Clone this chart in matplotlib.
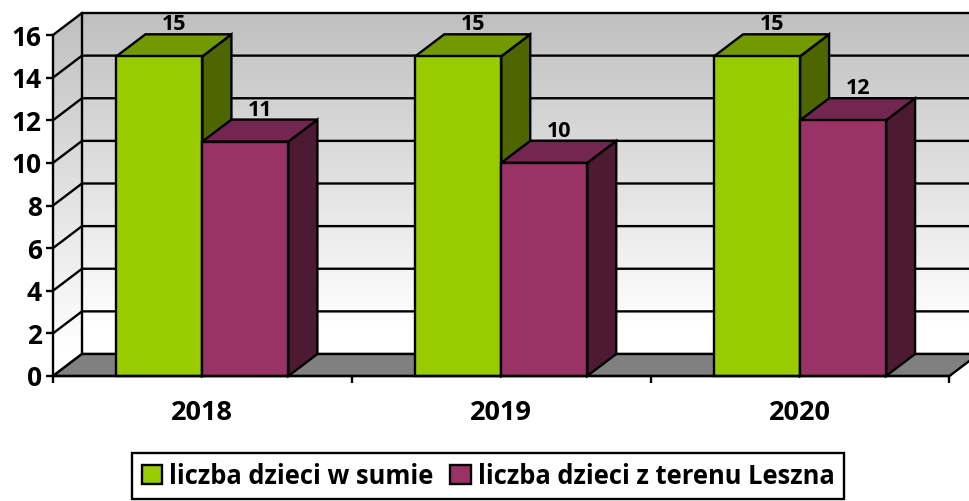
import numpy as np
import matplotlib
matplotlib.use("Agg")
import matplotlib.pyplot as plt
from matplotlib.patches import Polygon, Patch

years = ["2018", "2019", "2020"]
series_names = ["liczba dzieci w sumie", "liczba dzieci z terenu Leszna"]
total_children = [15, 15, 15]
leszno_children = [11, 10, 12]
y_ticks = [0, 2, 4, 6, 8, 10, 12, 14, 16]

W, H = 969, 501
plt.rcParams["font.family"] = ["Open Sans", "DejaVu Sans"]
plt.rcParams["font.weight"] = "bold"
fig = plt.figure(figsize=(W / 100, H / 100), dpi=100, facecolor="white")
L, R, B, T = 53.0, 949.5, 376.0, 35.0
ax = fig.add_axes([L / W, 1 - B / H, (R - L) / W, (B - T) / H])
px_x = 3 / (R - L)
px_y = 16 / (B - T)
DX, DY = 29 * px_x, 22 * px_y
BAR_W = 86 * px_x
LW = 1.7
x0, x1, ymax = -0.5, 2.5, 16

top_c, bot_c = np.array([0.75, 0.75, 0.75]), np.array([1.0, 1.0, 1.0])
g = np.linspace(0, 1, 256)[:, None, None]
g2 = np.clip(g / 0.92, 0, 1)
img = top_c * (1 - g2) + bot_c * g2

# back wall
ax.imshow(img, extent=[x0 + DX, x1 + DX, DY, ymax + DY], aspect="auto", origin="upper",
          zorder=1, clip_on=False)
# side wall
side = ax.imshow(img, extent=[x0, x0 + DX, 0, ymax + DY], aspect="auto", origin="upper", zorder=1)
clip_poly = Polygon([(x0, 0), (x0 + DX, DY), (x0 + DX, ymax + DY), (x0, ymax)],
                    transform=ax.transData, fill=False, edgecolor="none", clip_on=False)
ax.add_patch(clip_poly)
side.set_clip_box(fig.bbox)
side.set_clip_path(clip_poly)
ax.set_xlim(-0.5, 2.5)
ax.set_ylim(0, 16)
ax.patch.set_visible(False)

# grid
for v in y_ticks:
    ax.plot([x0, x0 + DX, x1 + DX], [v, v + DY, v + DY], color="black", lw=LW,
            zorder=2, clip_on=False, solid_joinstyle="miter")
ax.plot([x0 + DX, x0 + DX], [DY, ymax + DY], color="black", lw=LW, zorder=2, clip_on=False)

# floor
ax.add_patch(Polygon([(x0, 0), (x0 + DX, DY), (x1 + DX, DY), (x1, 0)], closed=True,
                     facecolor="#808080", edgecolor="black", lw=LW, zorder=3, clip_on=False))


def bar3d(xl, v, front, top, sidec, z):
    xr = xl + BAR_W
    kw = dict(closed=True, edgecolor="black", lw=LW, zorder=z, clip_on=False, joinstyle="miter")
    ax.add_patch(Polygon([(xr, 0), (xr + DX, DY), (xr + DX, v + DY), (xr, v)], facecolor=sidec, **kw))
    ax.add_patch(Polygon([(xl, v), (xl + DX, v + DY), (xr + DX, v + DY), (xr, v)], facecolor=top, **kw))
    ax.add_patch(Polygon([(xl, 0), (xl, v), (xr, v), (xr, 0)], facecolor=front, **kw))
    ax.text(xl + BAR_W / 2 + DX / 2, v + DY - 0.05, f"{v}", ha="center", va="bottom",
            fontsize=15.5, fontweight="bold", color="black", zorder=10, clip_on=False,
            linespacing=1)


for i in range(len(years)):
    bar3d(i - BAR_W, total_children[i], "#99CC00", "#739900", "#4D6600", 4 + i * 2)
    bar3d(i, leszno_children[i], "#993366", "#732650", "#4D1933", 5 + i * 2)

# axes
for s in ["top", "right"]:
    ax.spines[s].set_visible(False)
for s in ["left", "bottom"]:
    ax.spines[s].set_linewidth(LW)
    ax.spines[s].set_zorder(20)
ax.set_yticks(y_ticks)
ax.tick_params(axis="y", length=5, width=LW, labelsize=19, pad=3)
ax.set_xticks([-0.5, 0.5, 1.5, 2.5])
ax.set_xticklabels([])
ax.tick_params(axis="x", which="major", length=5, width=LW)
ax.set_xticks([0, 1, 2], minor=True)
ax.set_xticklabels(years, minor=True, fontsize=19.5, fontweight="bold")
ax.tick_params(axis="x", which="minor", length=0, pad=17)

handles = [Patch(facecolor="#99CC00", edgecolor="black", lw=LW, label=series_names[0]),
           Patch(facecolor="#993366", edgecolor="black", lw=LW, label=series_names[1])]
leg = fig.legend(handles=handles, ncol=2, loc="center", bbox_to_anchor=(488 / W, 1 - 476 / H),
                 fancybox=False, framealpha=1, edgecolor="black", fontsize=18.4,
                 handlelength=0.8, handleheight=0.8, handletextpad=0.27, columnspacing=0.66,
                 borderpad=0.38, borderaxespad=0)
leg.get_frame().set_linewidth(LW)
fig.savefig("out.png", dpi=100)
